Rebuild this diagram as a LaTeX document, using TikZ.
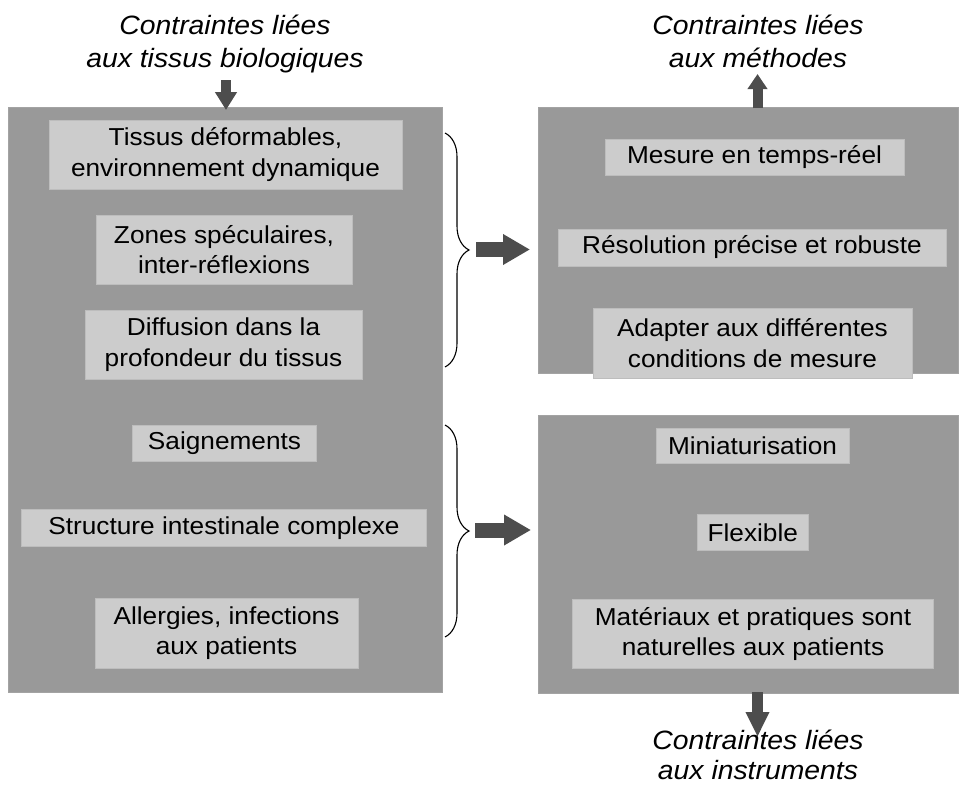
\documentclass[tikz,border=0pt]{standalone}
\usepackage{fontspec}
\setmainfont{Liberation Sans}[FakeStretch=1.07]
\usetikzlibrary{arrows.meta,decorations.pathreplacing}
\definecolor{bigfill}{HTML}{999999}
\definecolor{smallfill}{HTML}{CCCCCC}
\definecolor{smallline}{HTML}{BDBDBD}
\definecolor{arrowcol}{HTML}{4D4D4D}
\tikzset{
  panel/.style={fill=bigfill, draw=bigfill!90!white, line width=0.5pt, inner sep=0pt},
  item/.style={fill=smallfill, draw=smallline, line width=0.6pt, inner sep=0pt,
    align=center, font={\fontsize{24.5}{30.5}\selectfont}},
  heading/.style={align=center, inner sep=0pt, font={\fontsize{26.5}{32}\selectfont\itshape}},
  blockarrow/.style={draw=arrowcol, line width=#1},
  curly/.style={draw=black, line width=1.1pt, decorate, decoration={brace, amplitude=24pt}},
}
\begin{document}
\begin{tikzpicture}[x=1pt,y=-1pt]
\useasboundingbox (0,0) rectangle (960,784);
% panels
\node[panel, minimum width=434pt, minimum height=585pt] (left) at (225,399.5) {};
\node[panel, minimum width=420pt, minimum height=266pt] (rtop) at (748,240) {};
\node[panel, minimum width=420pt, minimum height=278pt] (rbot) at (748,554) {};
% left items
\node[item, minimum width=353pt, minimum height=69pt] (l1) at (225.5,154.5) {Tissus déformables,\\environnement dynamique};
\node[item, minimum width=256pt, minimum height=69pt] (l2) at (224,249.5) {Zones spéculaires,\\inter-réflexions};
\node[item, minimum width=277pt, minimum height=69pt] (l3) at (223.5,344.5) {Diffusion dans la\\profondeur du tissus};
\node[item, minimum width=184pt, minimum height=36.5pt] (l4) at (224.5,443.5) {Saignements};
\node[item, minimum width=405pt, minimum height=37.5pt] (l5) at (224,528) {Structure intestinale complexe};
\node[item, minimum width=263pt, minimum height=70pt] (l6) at (226.5,633) {Allergies, infections\\aux patients};
% right items
\node[item, minimum width=299pt, minimum height=36pt] (r1) at (754.5,157) {Mesure en temps-réel};
\node[item, minimum width=388pt, minimum height=37pt] (r2) at (752,247.5) {Résolution précise et robuste};
\node[item, minimum width=319pt, minimum height=70pt] (r3) at (752.5,343) {Adapter aux différentes\\conditions de mesure};
\node[item, minimum width=193pt, minimum height=35pt] (r4) at (752.5,445.5) {Miniaturisation};
\node[item, minimum width=111pt, minimum height=36.5pt] (r5) at (752.8,532.3) {Flexible};
\node[item, minimum width=361pt, minimum height=69pt] (r6) at (753,633.8) {Matériaux et pratiques sont\\naturelles aux patients};
% headings
\node[heading, anchor=base] (h1) at (225,35) {Contraintes liées};
\node[heading, anchor=base] (h1b) at (225,67) {aux tissus biologiques};
\node[heading, anchor=base] (h2) at (758,35) {Contraintes liées};
\node[heading, anchor=base] (h2b) at (758,67) {aux méthodes};
\node[heading, anchor=base] (h3) at (758,749) {Contraintes liées};
\node[heading, anchor=base] (h3b) at (758,779) {aux instruments};
% braces
\coordinate (b1t) at (445,133);
\coordinate (b1b) at (445,367);
\coordinate (b2t) at (445,425);
\coordinate (b2b) at (445,637);
\draw[curly] (b1t) -- (b1b);
\draw[curly] (b2t) -- (b2b);
% block arrows
\coordinate (a1s) at (476,249.5);
\coordinate (a1e) at (530,249.5);
\coordinate (a2s) at (475,530);
\coordinate (a2e) at (531,530);
\draw[blockarrow=15pt, -{Triangle[length=27pt,width=29pt]}, arrowcol] (a1s) -- (a1e);
\draw[blockarrow=15pt, -{Triangle[length=27pt,width=29pt]}, arrowcol] (a2s) -- (a2e);
\coordinate (t1s) at (226,80);
\coordinate (t1e) at (226,110);
\draw[blockarrow=10pt, -{Triangle[length=18pt,width=21pt]}, arrowcol] (t1s) -- (t1e);
\coordinate (t2s) at (757.5,108);
\coordinate (t2e) at (757.5,74);
\draw[blockarrow=10pt, -{Triangle[length=15pt,width=19pt]}, arrowcol] (t2s) -- (t2e);
\coordinate (t3s) at (757.5,692);
\coordinate (t3e) at (757.5,737);
\draw[blockarrow=11pt, -{Triangle[length=25pt,width=22pt]}, arrowcol] (t3s) -- (t3e);
\end{tikzpicture}
\end{document}
